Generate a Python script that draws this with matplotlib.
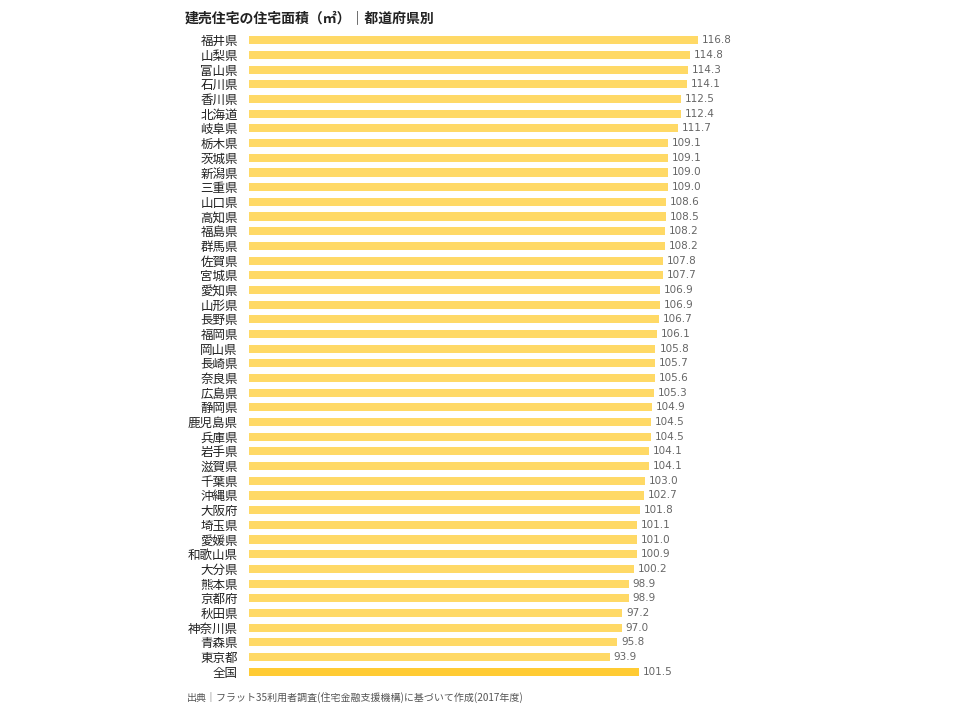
import matplotlib
matplotlib.use('Agg')
import matplotlib.pyplot as plt
import numpy as np

plt.rcParams['font.family'] = ['Noto Sans CJK JP', 'DejaVu Sans']

# 都道府県と建売住宅の住宅面積（㎡）
prefs = ['福井県', '山梨県', '富山県', '石川県', '香川県', '北海道', '岐阜県', '栃木県',
         '茨城県', '新潟県', '三重県', '山口県', '高知県', '福島県', '群馬県', '佐賀県',
         '宮城県', '愛知県', '山形県', '長野県', '福岡県', '岡山県', '長崎県', '奈良県',
         '広島県', '静岡県', '鹿児島県', '兵庫県', '岩手県', '滋賀県', '千葉県', '沖縄県',
         '大阪府', '埼玉県', '愛媛県', '和歌山県', '大分県', '熊本県', '京都府', '秋田県',
         '神奈川県', '青森県', '東京都', '全国']
areas = [116.8, 114.8, 114.3, 114.1, 112.5, 112.4, 111.7, 109.1,
         109.1, 109.0, 109.0, 108.6, 108.5, 108.2, 108.2, 107.8,
         107.7, 106.9, 106.9, 106.7, 106.1, 105.8, 105.7, 105.6,
         105.3, 104.9, 104.5, 104.5, 104.1, 104.1, 103.0, 102.7,
         101.8, 101.1, 101.0, 100.9, 100.2, 98.9, 98.9, 97.2,
         97.0, 95.8, 93.9, 101.5]

colors = ['#FFD966'] * (len(prefs) - 1) + ['#FFCB33']

fig = plt.figure(figsize=(9.6, 7.2), dpi=100)
ax = fig.add_axes([249 / 960, 1 - 679 / 720, 511 / 960, 646 / 720])

y = np.arange(len(prefs))
ax.barh(y, areas, height=0.55, color=colors)
ax.set_ylim(len(prefs) - 0.5, -0.5)
ax.set_xlim(0, 133)

ax.set_yticks(y)
ax.set_yticklabels(prefs, fontsize=9, color='#222222')
ax.tick_params(axis='y', length=0, pad=8)
ax.set_xticks([])
for s in ax.spines.values():
    s.set_visible(False)

# 値ラベル
for yi, v in zip(y, areas):
    ax.text(v + 1, yi, f'{v:.1f}', va='center', ha='left', fontsize=7.5,
            color='#666666', family='DejaVu Sans')

fig.text(185 / 960, 1 - 19 / 720, '建売住宅の住宅面積（㎡）｜都道府県別',
         fontsize=10, fontweight='bold', va='center', ha='left', color='#222222')
fig.text(187 / 960, 1 - 698 / 720,
         '出典｜フラット35利用者調査(住宅金融支援機構)に基づいて作成(2017年度)',
         fontsize=7.2, va='center', ha='left', color='#555555')

plt.savefig('out.png', dpi=100)
